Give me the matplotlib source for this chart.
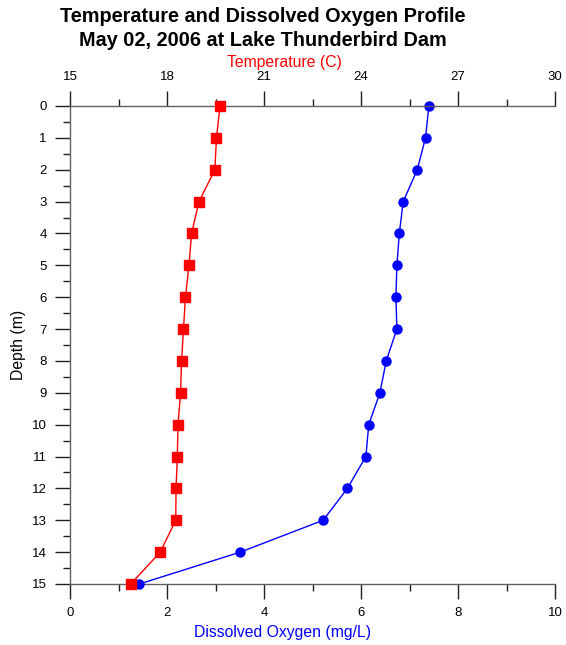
import numpy as np
import matplotlib.pyplot as plt
from matplotlib.ticker import MultipleLocator

plt.rcParams['font.family'] = ['Liberation Sans', 'DejaVu Sans']

depth = [0, 1, 2, 3, 4, 5, 6, 7, 8, 9, 10, 11, 12, 13, 14, 15]
temp = [19.64, 19.53, 19.48, 18.99, 18.76, 18.68, 18.57, 18.51,
        18.45, 18.42, 18.34, 18.32, 18.28, 18.27, 17.79, 16.88]
do = [7.40, 7.33, 7.16, 6.87, 6.79, 6.74, 6.72, 6.74,
      6.52, 6.39, 6.16, 6.10, 5.72, 5.22, 3.51, 1.43]

fig = plt.figure(figsize=(5.66, 6.45), dpi=100)
ax = fig.add_axes([70/566, 1-584/645, 485/566, 478/645])
ax2 = ax.twiny()

spine_col = '#606060'
for a in (ax, ax2):
    for s in a.spines.values():
        s.set_color(spine_col)
        s.set_linewidth(1.0)
    a.spines['right'].set_visible(False)
ax.spines['top'].set_visible(False)
ax2.spines['bottom'].set_visible(False)
ax2.spines['left'].set_visible(False)

# dissolved oxygen on bottom axis
ax.plot(do, depth, color='blue', lw=1, marker='o', ms=6.5, clip_on=False, zorder=3)
ax.set_xlim(0, 10)
ax.set_ylim(15, 0)
ax.xaxis.set_major_locator(MultipleLocator(2))
ax.xaxis.set_minor_locator(MultipleLocator(1))
ax.yaxis.set_major_locator(MultipleLocator(1))
ax.yaxis.set_minor_locator(MultipleLocator(0.5))
ax.tick_params(which='major', length=10.8, width=1, color='#202020', labelsize=9.5, pad=6)
ax.tick_params(which='minor', length=5, width=1, color='#202020')

# temperature on top axis
ax2.plot(temp, depth, color='red', lw=1, marker='s', ms=7, clip_on=False, zorder=4)
ax2.set_xlim(15, 30)
ax2.set_ylim(15, 0)
ax2.xaxis.set_major_locator(MultipleLocator(3))
ax2.xaxis.set_minor_locator(MultipleLocator(1.5))
ax2.tick_params(which='major', length=10.8, width=1, color='#202020', labelsize=9.5, pad=6)
ax2.tick_params(which='minor', length=5, width=1, color='#202020')

fig.text(263/566, 1-16/645, 'Temperature and Dissolved Oxygen Profile', ha='center', va='center',
         fontsize=14.3, fontweight='bold')
fig.text(263/566, 1-40/645, 'May 02, 2006 at Lake Thunderbird Dam', ha='center', va='center',
         fontsize=14.3, fontweight='bold')
fig.text(284/566, 1-63/645, 'Temperature (C)', ha='center', va='center', fontsize=11.3, color='red')
fig.text(282/566, 1-632/645, 'Dissolved Oxygen (mg/L)', ha='center', va='center', fontsize=11.3, color='blue')
fig.text(18/566, 1-345/645, 'Depth (m)', ha='center', va='center', fontsize=11.3, rotation=90)

fig.savefig('out.png', dpi=100)
